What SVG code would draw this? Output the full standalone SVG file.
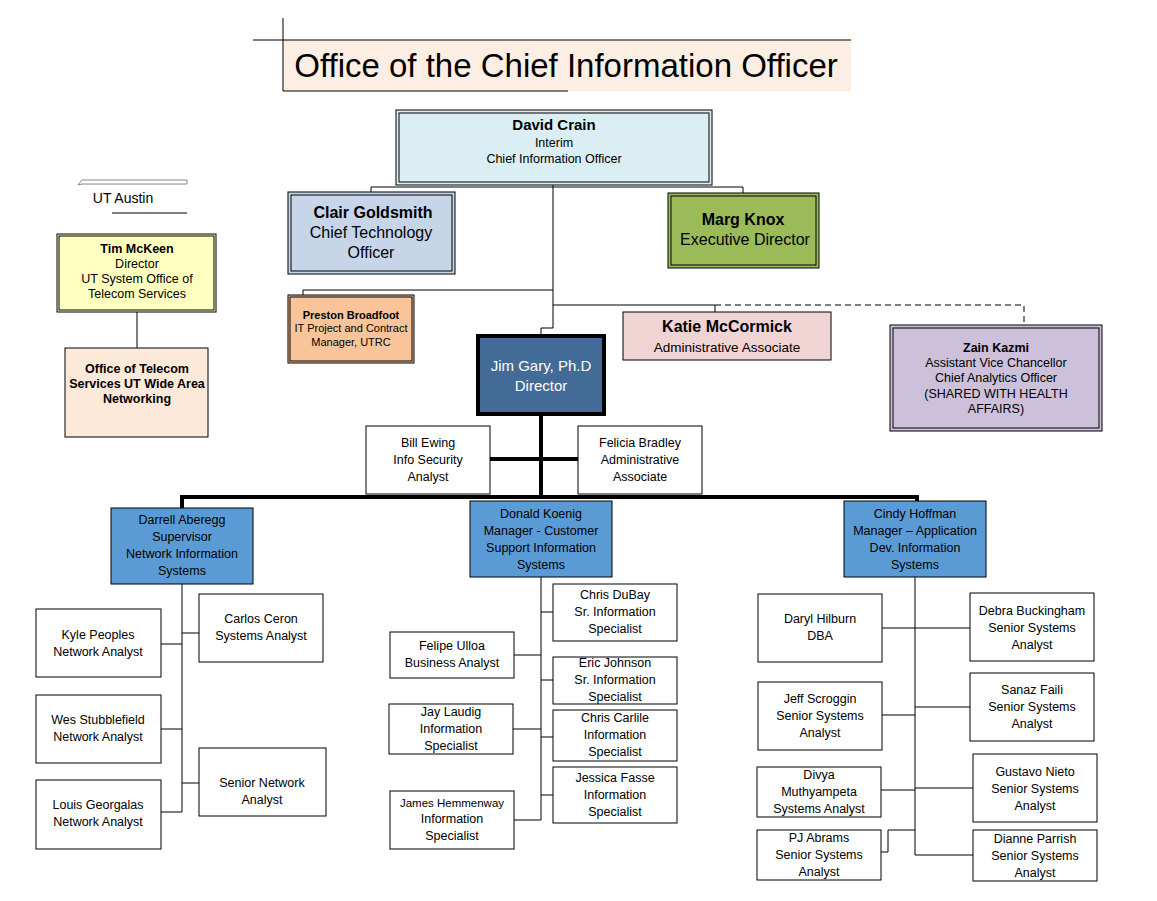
<svg xmlns="http://www.w3.org/2000/svg" width="1157" height="901" viewBox="0 0 1157 901">
<style>
text{font-family:"Liberation Sans",Arial,sans-serif;fill:#000;text-anchor:middle}
.s{font-size:12.5px}.b{font-weight:bold}
.box{stroke:#000;stroke-width:1}
.w{fill:#fff;stroke:#000;stroke-width:1}
.m{fill:#5b9bd5;stroke:#000;stroke-width:1}
.ln{stroke:#000;stroke-width:1;fill:none}
.th{stroke:#000;stroke-width:4;fill:none}
</style>
<rect width="1157" height="901" fill="#fff"/>
<g id="title">
<rect x="283" y="40" width="568" height="51" fill="#fdeee4"/>
<line class="ln" x1="253" y1="40" x2="851" y2="40"/>
<line class="ln" x1="283" y1="18" x2="283" y2="91"/>
<line class="ln" x1="283" y1="91" x2="568" y2="91"/>
<text x="566" y="77" style="font-size:33px">Office of the Chief Information Officer</text>
</g>
<g id="utaustin">
<path d="M78 185 L82 180 H187 V184 H82 Z" fill="#fff" stroke="#888"/>
<text x="123" y="203" style="font-size:14px">UT Austin</text>
<line class="ln" x1="112" y1="213" x2="187" y2="213"/>
</g>
<g id="connectors">
<polyline class="ln" points="371,192 371,187 710,187 743,187 743,193"/>
<line class="ln" x1="553" y1="185" x2="553" y2="328"/>
<polyline class="ln" points="553,290 303,290 303,295"/>
<polyline class="ln" points="553,305 715,305 715,312"/>
<polyline class="ln" points="715,305 1024,305 1024,325" stroke-dasharray="6,4"/>
<polyline class="ln" points="553,328 541,328 541,336"/>
<line class="ln" x1="137" y1="312" x2="137" y2="348"/>
<line class="th" x1="541" y1="414" x2="541" y2="499"/>
<line class="th" x1="490" y1="459" x2="578" y2="459"/>
<polyline class="th" points="182,508 182,497 917,497 917,501"/>
<line class="ln" x1="182" y1="584" x2="182" y2="812"/>
<line class="ln" x1="161" y1="644" x2="182" y2="644"/>
<line class="ln" x1="161" y1="729" x2="182" y2="729"/>
<line class="ln" x1="161" y1="812" x2="182" y2="812"/>
<line class="ln" x1="182" y1="633" x2="199" y2="633"/>
<line class="ln" x1="182" y1="783" x2="199" y2="783"/>
<line class="ln" x1="541" y1="577" x2="541" y2="820"/>
<line class="ln" x1="541" y1="612" x2="553" y2="612"/>
<line class="ln" x1="541" y1="680" x2="553" y2="680"/>
<line class="ln" x1="541" y1="737" x2="553" y2="737"/>
<line class="ln" x1="541" y1="795" x2="553" y2="795"/>
<line class="ln" x1="514" y1="655" x2="541" y2="655"/>
<line class="ln" x1="513" y1="729" x2="541" y2="729"/>
<line class="ln" x1="514" y1="820" x2="541" y2="820"/>
<line class="ln" x1="915" y1="577" x2="915" y2="855"/>
<line class="ln" x1="882" y1="628" x2="915" y2="628"/>
<line class="ln" x1="882" y1="715" x2="915" y2="715"/>
<line class="ln" x1="881" y1="790" x2="915" y2="790"/>
<polyline class="ln" points="881,852 888,852 888,830 915,830"/>
<line class="ln" x1="915" y1="628" x2="970" y2="628"/>
<line class="ln" x1="915" y1="707" x2="970" y2="707"/>
<line class="ln" x1="915" y1="788" x2="973" y2="788"/>
<line class="ln" x1="915" y1="855" x2="973" y2="855"/>
</g>
<g id="david"><rect x="396" y="110" width="316" height="75" fill="#daeef3" class="box"/><rect x="399" y="113" width="310" height="69" fill="none" class="box"/>
<text x="554" y="130" class="b" style="font-size:15px">David Crain</text><text x="554" y="147" class="s">Interim</text><text x="554" y="163" class="s">Chief Information Officer</text></g>
<g id="clair"><rect x="288" y="192" width="167" height="82" fill="#c6d5e8" class="box"/><rect x="291" y="195" width="161" height="76" fill="none" class="box"/>
<text x="373" y="218" class="b" style="font-size:16px">Clair Goldsmith</text><text x="371" y="238" style="font-size:16px">Chief Technology</text><text x="371" y="258" style="font-size:16px">Officer</text></g>
<g id="marg"><rect x="668" y="193" width="151" height="75" fill="#9bbb59" class="box"/><rect x="671" y="196" width="145" height="69" fill="none" class="box"/>
<text x="743" y="225" class="b" style="font-size:16px">Marg Knox</text><text x="745" y="245" style="font-size:16px">Executive Director</text></g>
<g id="preston"><rect x="288" y="295" width="126" height="68" fill="#f9c499" class="box"/><rect x="290" y="297" width="122" height="64" fill="none" class="box"/>
<text x="351" y="319" class="b" style="font-size:11px">Preston Broadfoot</text><text x="351" y="332" style="font-size:11px">IT Project and Contract</text><text x="351" y="346" style="font-size:11px">Manager, UTRC</text></g>
<g id="katie"><rect x="623" y="312" width="208" height="48" fill="#f0d3d3" class="box"/>
<text x="727" y="332" class="b" style="font-size:16px">Katie McCormick</text><text x="727" y="352" style="font-size:13.5px">Administrative Associate</text></g>
<g id="zain"><rect x="890" y="325" width="212" height="106" fill="#ccc0da" class="box"/><rect x="893" y="328" width="206" height="100" fill="none" class="box"/>
<text x="996" y="352" class="b s">Zain Kazmi</text><text x="996" y="367" class="s">Assistant Vice Chancellor</text><text x="996" y="382" class="s">Chief Analytics Officer</text><text x="996" y="398" class="s">(SHARED WITH HEALTH</text><text x="996" y="413" class="s">AFFAIRS)</text></g>
<g id="jim"><rect x="478" y="336" width="126" height="78" fill="#426b97" stroke="#000" stroke-width="4"/>
<text x="541" y="371" style="font-size:15px;fill:#fff">Jim Gary, Ph.D</text><text x="541" y="391" style="font-size:15px;fill:#fff">Director</text></g>
<g id="tim"><rect x="57" y="234" width="159" height="78" fill="#ffffc0" class="box"/><rect x="59" y="236" width="155" height="74" fill="none" class="box"/>
<text x="137" y="253" class="b s">Tim McKeen</text><text x="137" y="268" class="s">Director</text><text x="137" y="283" class="s">UT System Office of</text><text x="137" y="298" class="s">Telecom Services</text></g>
<g id="office"><rect x="65" y="348" width="143" height="89" fill="#fde9d9" class="box"/>
<text x="137" y="373" class="b s">Office of Telecom</text><text x="137" y="388" class="b s">Services UT Wide Area</text><text x="137" y="403" class="b s">Networking</text></g>
<g id="bill"><rect x="366" y="426" width="124" height="68" class="w"/><text x="428" y="447" class="s">Bill Ewing</text><text x="428" y="464" class="s">Info Security</text><text x="428" y="481" class="s">Analyst</text></g>
<g id="felicia"><rect x="578" y="426" width="124" height="68" class="w"/><text x="640" y="447" class="s">Felicia Bradley</text><text x="640" y="464" class="s">Administrative</text><text x="640" y="481" class="s">Associate</text></g>
<g id="darrell"><rect x="111" y="508" width="142" height="76" class="m"/><text x="182" y="524" class="s">Darrell Aberegg</text><text x="182" y="541" class="s">Supervisor</text><text x="182" y="558" class="s">Network Information</text><text x="182" y="575" class="s">Systems</text></g>
<g id="donald"><rect x="470" y="501" width="142" height="76" class="m"/><text x="541" y="518" class="s">Donald Koenig</text><text x="541" y="535" class="s">Manager - Customer</text><text x="541" y="552" class="s">Support Information</text><text x="541" y="569" class="s">Systems</text></g>
<g id="cindy"><rect x="844" y="501" width="142" height="76" class="m"/><text x="915" y="518" class="s">Cindy Hoffman</text><text x="915" y="535" class="s">Manager – Application</text><text x="915" y="552" class="s">Dev. Information</text><text x="915" y="569" class="s">Systems</text></g>
<g id="kyle"><rect x="36" y="609" width="125" height="68" class="w"/><text x="98" y="639" class="s">Kyle Peoples</text><text x="98" y="656" class="s">Network Analyst</text></g>
<g id="wes"><rect x="36" y="695" width="125" height="68" class="w"/><text x="98" y="724" class="s">Wes Stubblefield</text><text x="98" y="741" class="s">Network Analyst</text></g>
<g id="louis"><rect x="36" y="780" width="125" height="69" class="w"/><text x="98" y="809" class="s">Louis Georgalas</text><text x="98" y="826" class="s">Network Analyst</text></g>
<g id="carlos"><rect x="199" y="594" width="124" height="68" class="w"/><text x="261" y="623" class="s">Carlos Ceron</text><text x="261" y="640" class="s">Systems Analyst</text></g>
<g id="seniornet"><rect x="199" y="748" width="127" height="68" class="w"/><text x="262" y="787" class="s">Senior Network</text><text x="262" y="804" class="s">Analyst</text></g>
<g id="dubay"><rect x="553" y="584" width="124" height="57" class="w"/><text x="615" y="599" class="s">Chris DuBay</text><text x="615" y="616" class="s">Sr. Information</text><text x="615" y="633" class="s">Specialist</text></g>
<g id="eric"><rect x="553" y="657" width="124" height="47" class="w"/><text x="615" y="667" class="s">Eric Johnson</text><text x="615" y="684" class="s">Sr. Information</text><text x="615" y="701" class="s">Specialist</text></g>
<g id="carlile"><rect x="553" y="710" width="124" height="51" class="w"/><text x="615" y="722" class="s">Chris Carlile</text><text x="615" y="739" class="s">Information</text><text x="615" y="756" class="s">Specialist</text></g>
<g id="jessica"><rect x="553" y="767" width="124" height="56" class="w"/><text x="615" y="782" class="s">Jessica Fasse</text><text x="615" y="799" class="s">Information</text><text x="615" y="816" class="s">Specialist</text></g>
<g id="felipe"><rect x="390" y="632" width="124" height="46" class="w"/><text x="452" y="650" class="s">Felipe Ulloa</text><text x="452" y="667" class="s">Business Analyst</text></g>
<g id="jay"><rect x="389" y="704" width="124" height="50" class="w"/><text x="451" y="716" class="s">Jay Laudig</text><text x="451" y="733" class="s">Information</text><text x="451" y="750" class="s">Specialist</text></g>
<g id="james"><rect x="390" y="791" width="124" height="58" class="w"/><text x="452" y="807" style="font-size:11.5px">James Hemmenway</text><text x="452" y="823" class="s">Information</text><text x="452" y="840" class="s">Specialist</text></g>
<g id="daryl"><rect x="758" y="594" width="124" height="68" class="w"/><text x="820" y="623" class="s">Daryl Hilburn</text><text x="820" y="640" class="s">DBA</text></g>
<g id="jeff"><rect x="758" y="682" width="124" height="68" class="w"/><text x="820" y="703" class="s">Jeff Scroggin</text><text x="820" y="720" class="s">Senior Systems</text><text x="820" y="737" class="s">Analyst</text></g>
<g id="divya"><rect x="757" y="767" width="124" height="50" class="w"/><text x="819" y="779" class="s">Divya</text><text x="819" y="796" class="s">Muthyampeta</text><text x="819" y="813" class="s">Systems Analyst</text></g>
<g id="pj"><rect x="757" y="830" width="124" height="50" class="w"/><text x="819" y="842" class="s">PJ Abrams</text><text x="819" y="859" class="s">Senior Systems</text><text x="819" y="876" class="s">Analyst</text></g>
<g id="debra"><rect x="970" y="593" width="124" height="68" class="w"/><text x="1032" y="615" class="s">Debra Buckingham</text><text x="1032" y="632" class="s">Senior Systems</text><text x="1032" y="649" class="s">Analyst</text></g>
<g id="sanaz"><rect x="970" y="673" width="124" height="68" class="w"/><text x="1032" y="694" class="s">Sanaz Faili</text><text x="1032" y="711" class="s">Senior Systems</text><text x="1032" y="728" class="s">Analyst</text></g>
<g id="gustavo"><rect x="973" y="754" width="124" height="68" class="w"/><text x="1035" y="776" class="s">Gustavo Nieto</text><text x="1035" y="793" class="s">Senior Systems</text><text x="1035" y="810" class="s">Analyst</text></g>
<g id="dianne"><rect x="973" y="830" width="124" height="51" class="w"/><text x="1035" y="843" class="s">Dianne Parrish</text><text x="1035" y="860" class="s">Senior Systems</text><text x="1035" y="877" class="s">Analyst</text></g>
</svg>
